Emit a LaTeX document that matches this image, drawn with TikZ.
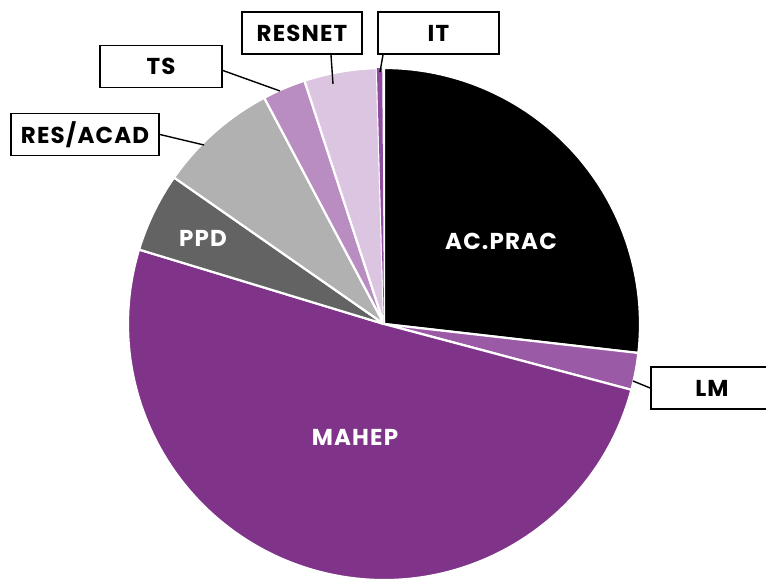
\documentclass[tikz,border=0pt]{standalone}
\usepackage{fontspec}
\setsansfont{Poppins}[LetterSpace=5]
\usetikzlibrary{calc}
\definecolor{acblack}{RGB}{0,0,0}
\definecolor{lmpurple}{RGB}{155,90,166}
\definecolor{mahep}{RGB}{127,51,137}
\definecolor{ppdgray}{RGB}{99,99,99}
\definecolor{resgray}{RGB}{177,177,177}
\definecolor{tspurple}{RGB}{185,141,193}
\definecolor{resnetlilac}{RGB}{220,197,224}
\definecolor{itpurple}{RGB}{142,76,160}

\begin{document}
\begin{tikzpicture}[x=1pt, y=1pt,
    slice/.style={draw=white, line width=2.2pt, line join=round},
    inlabel/.style={text=white, font=\sffamily\bfseries\fontsize{23}{27}\selectfont},
    labelbox/.style={draw=black, fill=white, line width=1.8pt, inner sep=0pt,
      minimum height=42pt, font=\sffamily\bfseries\fontsize{23}{27}\selectfont},
    leader/.style={black, line width=1.4pt}]
        \clip (0,0) rectangle (766,581);
        \coordinate (c) at (384,257);

        % Slices, clockwise from the top
        \filldraw[slice, fill=acblack] (c) -- ++(90:256pt) arc[start angle=90, end angle=-6.5, radius=256pt] -- cycle;
        \filldraw[slice, fill=lmpurple] (c) -- ++(-6.5:256pt) arc[start angle=-6.5, end angle=-14.9, radius=256pt] -- cycle;
        \filldraw[slice, fill=mahep] (c) -- ++(-14.9:256pt) arc[start angle=-14.9, end angle=-196.9, radius=256pt] -- cycle;
        \filldraw[slice, fill=ppdgray] (c) -- ++(163.1:256pt) arc[start angle=163.1, end angle=145.1, radius=256pt] -- cycle;
        \filldraw[slice, fill=resgray] (c) -- ++(145.1:256pt) arc[start angle=145.1, end angle=117.9, radius=256pt] -- cycle;
        \filldraw[slice, fill=tspurple] (c) -- ++(117.9:256pt) arc[start angle=117.9, end angle=108.1, radius=256pt] -- cycle;
        \filldraw[slice, fill=resnetlilac] (c) -- ++(108.1:256pt) arc[start angle=108.1, end angle=91.6, radius=256pt] -- cycle;
        \fill[itpurple] (c) -- ++(91.6:256pt) arc[start angle=91.6, end angle=90.4, radius=256pt] -- cycle;

        % Labels on the pie
        \node[inlabel] (acprac) at (501,340) {AC.PRAC};
        \node[inlabel] (ppd) at (203,343) {PPD};
        \node[inlabel] (mahepl) at (355,144) {MAHEP};

        % Boxed labels
        \node[labelbox, minimum width=120pt] (resnet) at (302,548) {RESNET};
        \node[labelbox, minimum width=121pt] (it) at (438.5,548) {IT};
        \node[labelbox, minimum width=122pt] (ts) at (161,514.5) {TS};
        \node[labelbox, minimum width=148pt] (resacad) at (85,446.5) {RES/ACAD};
        \node[labelbox, minimum width=122pt] (lm) at (712,193) {LM};

        % Leader lines
        \coordinate (resnetpt) at (333,497);
        \coordinate (itpt) at (380,509);
        \coordinate (tspt) at (280,490);
        \coordinate (resacadpt) at (204,436);
        \coordinate (lmpt) at (633,200);
        \draw[leader] ([xshift=29pt]resnet.south) -- (resnetpt);
        \draw[leader] ([xshift=-55.5pt]it.south) -- (itpt);
        \draw[leader] ([yshift=-4pt]ts.east) -- (tspt);
        \draw[leader] (resacad.east) -- (resacadpt);
        \draw[leader] (lm.west) -- (lmpt);
    \end{tikzpicture}
\end{document}
